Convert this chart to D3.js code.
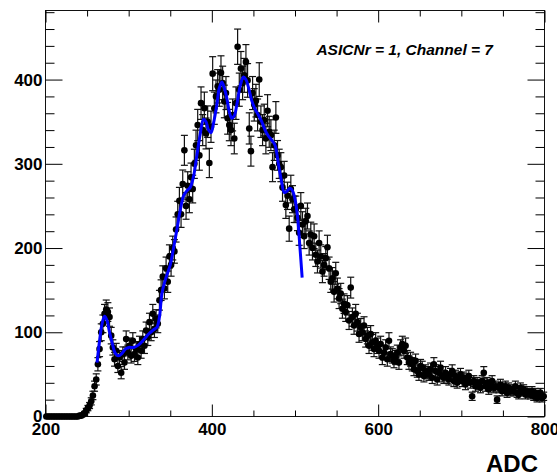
<!DOCTYPE html>
<html>
<head>
<meta charset="utf-8">
<script src="https://cdn.jsdelivr.net/npm/d3@7"></script>
<style>
  body { margin: 0; background: #fff; }
  text { font-family: "Liberation Sans", Arial, Helvetica, sans-serif; }
</style>
</head>
<body>
<div class="vizHolder"></div>
<script>
// ADC histogram, bins of width 2 starting at 200
var binStart = 200, binWidth = 2;
var counts = [
    0, 0, 0, 0, 0, 0, 0, 0, 0, 0,           // 200
    0, 0, 0, 0, 0, 0, 0, 0, 0, 0,           // 220
    1, 1, 2, 4, 7, 10, 13, 18, 25, 36,      // 240
    44, 62, 80, 100, 110, 122, 127, 124, 118, 96,
    82, 68, 78, 60, 70, 52, 74, 64, 92, 76,  // 280
    84, 72, 90, 74, 80, 70, 86, 78, 92, 84,
    102, 94, 112, 100, 122, 104, 116, 110, 138, 150,   // 320
    166, 152, 176, 160, 190, 180, 200, 196, 222, 240,
    256, 240, 276, 316, 250, 274, 258, 284, 270, 300,  // 360
    322, 346, 310, 372, 340, 366, 336, 350, 301, 344,
    407, 366, 380, 392, 388, 408, 396, 374, 384, 354,  // 400
    346, 340, 358, 330, 372, 439, 388, 413, 396, 405,
    421, 399, 342, 315, 384, 370, 375, 358, 400, 350,  // 440
    340, 352, 330, 363, 338, 334, 296, 322, 355, 310,
    300, 296, 272, 286, 251, 262, 223, 270, 258, 246,  // 480
    246, 236, 218, 250, 228, 214, 232, 238, 206, 216,
    200, 214, 192, 184, 206, 190, 172, 180, 188, 201,  // 520
    176, 160, 164, 148, 170, 152, 140, 146, 128, 134,
    124, 132, 114, 153, 118, 108, 122, 112, 98, 106,   // 560
    100, 108, 92, 96, 84, 98, 88, 80, 90, 84,
    78, 86, 70, 76, 82, 68, 90, 74, 72, 66,            // 600
    70, 76, 64, 82, 86, 78, 84, 70, 64, 68,
    62, 56, 66, 54, 50, 60, 58, 48, 54, 52,            // 640
    50, 56, 46, 62, 54, 44, 52, 58, 48, 46,
    52, 46, 44, 50, 54, 42, 48, 40, 46, 50,            // 680
    42, 46, 38, 44, 48, 40, 24, 42, 36, 40,
    38, 34, 42, 52, 36, 40, 32, 38, 42, 34,            // 720
    36, 20, 34, 38, 30, 34, 36, 28, 34, 30,
    32, 30, 36, 28, 26, 34, 30, 32, 26, 30,            // 760
    28, 26, 30, 24, 28, 22, 26, 28, 22, 24
];

// fitted function, sampled points
var fitAdc = [262, 265, 268, 271, 274, 277, 280, 284, 288, 292, 296, 300, 306, 312, 318, 324, 330, 334,
              337, 340, 344, 350, 354, 358, 362, 366, 370, 374, 378, 382, 386, 390, 393, 396, 399,
              402, 406, 409, 412, 415, 418, 421, 424, 427, 430, 434, 438, 441, 444, 448, 452, 456,
              460, 464, 468, 472, 476, 480, 484, 487, 490, 494, 497, 500, 503, 506, 508.6];
var fitVal = [64, 90, 110, 119, 114, 100, 88, 75, 72, 75, 80, 82, 82, 85, 91, 98, 103, 106,
              118, 146, 162, 180, 200, 222, 245, 262, 268, 272, 285, 310, 335, 353, 350, 340, 337,
              348, 370, 390, 397, 390, 378, 362, 354, 357, 370, 392, 403, 400, 391, 375, 365, 358,
              350, 340, 333, 328, 322, 300, 278, 266, 267, 271, 268, 258, 238, 200, 165];

var xTicks = [200, 400, 600, 800];
var xMinor = [250, 300, 350, 450, 500, 550, 650, 700, 750];
var yTicks = [0, 100, 200, 300, 400];
var yMinor = [20, 40, 60, 80, 120, 140, 160, 180, 220, 240, 260, 280,
              320, 340, 360, 380, 420, 440, 460, 480];

var margin = {top: 10, right: 13, bottom: 60, left: 45},
    width = 557 - margin.left - margin.right,
    height = 476 - margin.top - margin.bottom;

var xScale = d3.scaleLinear()
               .domain([200, 800])
               .range([0, width]);
var yScale = d3.scaleLinear()
               .domain([0, 482])
               .range([height, 0]);

var root = d3.select(".vizHolder")
             .append("svg")
             .attr("width", 557)
             .attr("height", 476)
             .style("display", "block");

var svg = root.append("g")
              .attr("transform", "translate(" + (margin.left + 0.5) + "," + (margin.top + 0.5) + ")");

function styleAxis(g) {
    g.attr("font-family", "'Liberation Sans', Arial, sans-serif")
     .attr("font-size", 17)
     .attr("font-weight", "bold");
    g.select(".domain").remove();
}

// frame
svg.append("rect")
   .attr("width", width)
   .attr("height", height)
   .attr("fill", "none")
   .attr("stroke", "#111");

// x-axis (bottom with labels, top without)
svg.append("g")
   .attr("transform", "translate(0," + height + ")")
   .call(d3.axisBottom(xScale).tickValues(xTicks).tickSize(-12).tickPadding(6).tickFormat(d3.format("d")))
   .call(styleAxis);
svg.append("g")
   .attr("transform", "translate(0," + height + ")")
   .call(d3.axisBottom(xScale).tickValues(xMinor).tickSize(-6).tickFormat(""))
   .call(styleAxis);
svg.append("g")
   .call(d3.axisTop(xScale).tickValues(xTicks).tickSize(-12).tickFormat(""))
   .call(styleAxis);
svg.append("g")
   .call(d3.axisTop(xScale).tickValues(xMinor).tickSize(-6).tickFormat(""))
   .call(styleAxis);

// y-axis (left with labels, right without)
svg.append("g")
   .call(d3.axisLeft(yScale).tickValues(yTicks).tickSize(-17).tickPadding(3))
   .call(styleAxis);
svg.append("g")
   .call(d3.axisLeft(yScale).tickValues(yMinor).tickSize(-9).tickFormat(""))
   .call(styleAxis);
svg.append("g")
   .attr("transform", "translate(" + width + ",0)")
   .call(d3.axisRight(yScale).tickValues(yTicks).tickSize(-17).tickFormat(""))
   .call(styleAxis);
svg.append("g")
   .attr("transform", "translate(" + width + ",0)")
   .call(d3.axisRight(yScale).tickValues(yMinor).tickSize(-9).tickFormat(""))
   .call(styleAxis);

var bins = counts.map(function(c, i) {
    return {adc: binStart + binWidth * (i + 0.5), n: c};
});
var filled = bins.filter(function(d) { return d.n > 0; });

// error bars, sqrt(N)
var errs = svg.selectAll(".err")
              .data(filled)
              .enter().append("g")
              .attr("class", "err")
              .attr("stroke", "#111")
              .attr("stroke-width", 1.2);
errs.append("line")
    .attr("x1", function(d) { return xScale(d.adc); })
    .attr("x2", function(d) { return xScale(d.adc); })
    .attr("y1", function(d) { return yScale(d.n - Math.sqrt(d.n)); })
    .attr("y2", function(d) { return yScale(d.n + Math.sqrt(d.n)); });
errs.append("line")
    .attr("x1", function(d) { return xScale(d.adc) - 3.5; })
    .attr("x2", function(d) { return xScale(d.adc) + 3.5; })
    .attr("y1", function(d) { return yScale(d.n + Math.sqrt(d.n)); })
    .attr("y2", function(d) { return yScale(d.n + Math.sqrt(d.n)); });
errs.append("line")
    .attr("x1", function(d) { return xScale(d.adc) - 3.5; })
    .attr("x2", function(d) { return xScale(d.adc) + 3.5; })
    .attr("y1", function(d) { return yScale(d.n - Math.sqrt(d.n)); })
    .attr("y2", function(d) { return yScale(d.n - Math.sqrt(d.n)); });

// markers
svg.selectAll(".dot")
   .data(bins)
   .enter().append("circle")
   .attr("class", "dot")
   .attr("r", 3.3)
   .attr("cx", function(d) { return xScale(d.adc); })
   .attr("cy", function(d) { return yScale(d.n); })
   .attr("fill", "#000");

// fit curve
var fitLine = d3.line()
                .x(function(d) { return xScale(d[0]); })
                .y(function(d) { return yScale(d[1]); })
                .curve(d3.curveCatmullRom);
svg.append("path")
   .datum(d3.zip(fitAdc, fitVal))
   .attr("d", fitLine)
   .attr("fill", "none")
   .attr("stroke", "#0000ff")
   .attr("stroke-width", 3);

// labels
root.append("text")
    .attr("x", 493)
    .attr("y", 55)
    .attr("text-anchor", "end")
    .style("font-size", "15.5px")
    .style("font-style", "italic")
    .style("font-weight", "bold")
    .text("ASICNr = 1, Channel = 7");

root.append("text")
    .attr("x", 538)
    .attr("y", 472)
    .attr("text-anchor", "end")
    .style("font-size", "24px")
    .style("font-weight", "bold")
    .text("ADC");
</script>
</body>
</html>
